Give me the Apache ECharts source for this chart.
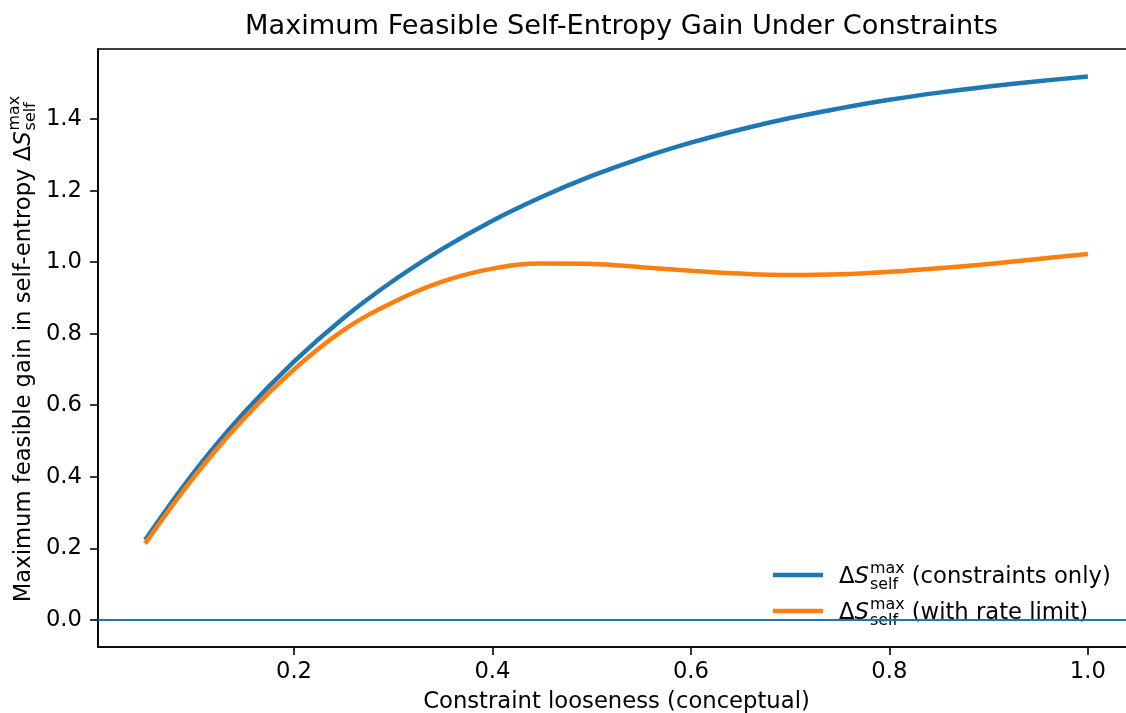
<!DOCTYPE html>
<html><head><meta charset="utf-8">
<script src="https://cdn.jsdelivr.net/npm/echarts@6/dist/echarts.min.js"></script>
<style>html,body{margin:0;padding:0;background:#fff}#c{width:1126px;height:713px}</style>
</head><body><div id="c"></div>
<script>
// ---- data ----
const xValues = [0.05,0.10,0.15,0.20,0.25,0.30,0.35,0.40,0.45,0.50,0.55,0.60,0.65,0.70,0.75,0.80,0.85,0.90,0.95,1.00];
const constraintsOnly = [0.223,0.415,0.580,0.722,0.844,0.948,1.038,1.116,1.183,1.241,1.291,1.334,1.371,1.403,1.430,1.454,1.474,1.491,1.506,1.519];
const withRateLimit  = [0.213,0.402,0.564,0.700,0.810,0.888,0.946,0.982,0.996,0.995,0.986,0.976,0.968,0.964,0.966,0.973,0.983,0.995,1.009,1.023];
const xTicks = [0.2,0.4,0.6,0.8,1.0];
const yTicks = [0.0,0.2,0.4,0.6,0.8,1.0,1.2,1.4];
const titleText = 'Maximum Feasible Self-Entropy Gain Under Constraints';
const xLabelText = 'Constraint looseness (conceptual)';
const yLabelText = 'Maximum feasible gain in self-entropy Δ';
const legendTexts = [' (constraints only)', ' (with rate limit)'];
const seriesNames = ['ΔS_self^max (constraints only)', 'ΔS_self^max (with rate limit)'];
const colors = ['#1f77b4', '#ff7f0e'];

const FONT = '"DejaVu Sans", sans-serif';
const FS = 22.7, FSS = 15.9;

const ctx = document.createElement('canvas').getContext('2d');
function tw(t, size, italic) { ctx.font = (italic ? 'italic ' : '') + size + 'px ' + FONT; return ctx.measureText(t).width; }

const chart = echarts.init(document.getElementById('c'), null, {renderer: 'canvas'});

function mathPieces(prefix, suffix) {
  const els = [];
  let x = 0;
  els.push({type: 'text', x: x, y: 0, style: {text: prefix, font: FS + 'px ' + FONT, fill: '#000', textAlign: 'left', textVerticalAlign: 'middle'}});
  x += tw(prefix, FS);
  els.push({type: 'text', x: x, y: 0, style: {text: 'S', font: 'italic ' + FS + 'px ' + FONT, fill: '#000', textAlign: 'left', textVerticalAlign: 'middle'}});
  x += tw('S', FS, true) + 1;
  els.push({type: 'text', x: x, y: -9, style: {text: 'max', font: FSS + 'px ' + FONT, fill: '#000', textAlign: 'left', textVerticalAlign: 'middle'}});
  els.push({type: 'text', x: x, y: 7, style: {text: 'self', font: FSS + 'px ' + FONT, fill: '#000', textAlign: 'left', textVerticalAlign: 'middle'}});
  x += Math.max(tw('max', FSS), tw('self', FSS));
  if (suffix) {
    els.push({type: 'text', x: x, y: 0, style: {text: suffix, font: FS + 'px ' + FONT, fill: '#000', textAlign: 'left', textVerticalAlign: 'middle'}});
    x += tw(suffix, FS);
  }
  return {els: els, width: x};
}

const graphics = [];
const yl = mathPieces(yLabelText, '');
graphics.push({type: 'group', x: 24, y: 349 + yl.width / 2, rotation: Math.PI / 2, children: yl.els, silent: true});
for (let i = 0; i < 2; i++) {
  const yy = 575 + 36 * i;
  graphics.push({type: 'line', shape: {x1: 773, y1: yy, x2: 823, y2: yy}, style: {stroke: colors[i], lineWidth: 4.5}, silent: true});
  const lp = mathPieces('Δ', legendTexts[i]);
  graphics.push({type: 'group', x: 839, y: yy + 2.5, children: lp.els, silent: true});
}

const option = {
  animation: false,
  backgroundColor: '#fff',
  color: colors,
  title: {text: titleText, left: 616.5, top: 8, textAlign: 'center',
    textStyle: {fontSize: 27.2, fontWeight: 'normal', color: '#000', fontFamily: FONT}},
  legend: {show: false, data: seriesNames},
  grid: {left: 98, top: 49, width: 1037, height: 598, outerBoundsMode: 'none', containLabel: false,
    show: true, borderColor: '#000', borderWidth: 1.6, backgroundColor: 'transparent'},
  xAxis: {
    type: 'value', min: 0.0025, max: 1.0475,
    axisLine: {show: true, onZero: false, lineStyle: {color: '#000', width: 1.6}},
    axisTick: {show: true, length: 7.9, customValues: xTicks, lineStyle: {color: '#000', width: 1.6}},
    axisLabel: {customValues: xTicks, formatter: v => Number(v).toFixed(1), fontSize: FS, color: '#000', fontFamily: FONT, margin: 14},
    splitLine: {show: false},
    name: xLabelText, nameLocation: 'middle', nameGap: 44,
    nameTextStyle: {fontSize: FS, color: '#000', fontFamily: FONT}
  },
  yAxis: {
    type: 'value', min: -0.076, max: 1.596,
    axisLine: {show: true, onZero: false, lineStyle: {color: '#000', width: 1.6}},
    axisTick: {show: true, length: 7.9, customValues: yTicks, lineStyle: {color: '#000', width: 1.6}},
    axisLabel: {customValues: yTicks, formatter: v => Number(v).toFixed(1), fontSize: FS, color: '#000', fontFamily: FONT, margin: 16},
    splitLine: {show: false}
  },
  graphic: graphics,
  series: [
    {name: seriesNames[0], type: 'line', smooth: 0.4, showSymbol: false, symbol: 'none',
     data: xValues.map((x, i) => [x, constraintsOnly[i]]),
     lineStyle: {width: 4.5, color: colors[0], cap: 'butt'}, emphasis: {disabled: true}, z: 2,
     markLine: {silent: true, symbol: ['none', 'none'], label: {show: false}, animation: false,
       lineStyle: {color: colors[0], width: 2.2, type: 'solid'}, emphasis: {disabled: true},
       data: [{yAxis: 0}]}},
    {name: seriesNames[1], type: 'line', smooth: 0.4, showSymbol: false, symbol: 'none',
     data: xValues.map((x, i) => [x, withRateLimit[i]]),
     lineStyle: {width: 4.5, color: colors[1], cap: 'butt'}, emphasis: {disabled: true}, z: 3}
  ]
};
chart.setOption(option);
</script>
</body></html>
